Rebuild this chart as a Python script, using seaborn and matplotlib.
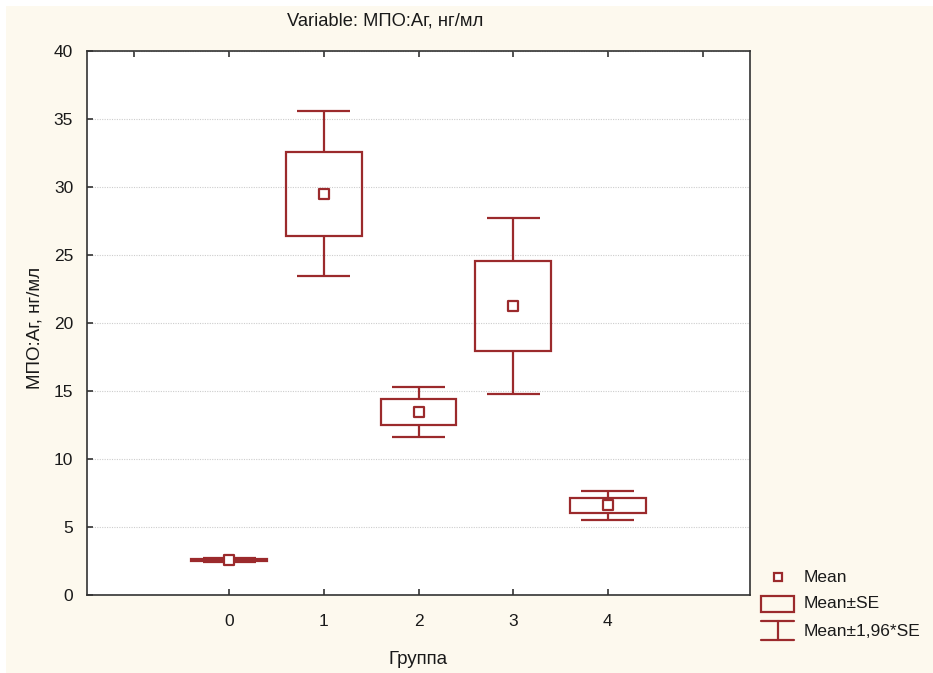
import matplotlib
matplotlib.use("Agg")
import matplotlib.pyplot as plt
from matplotlib.patches import Rectangle
import numpy as np
import pandas as pd
import seaborn as sns

# Group means of MPO:Ag (ng/ml) and their standard errors
groups = [0, 1, 2, 3, 4]
means = [2.55, 29.5, 13.45, 21.25, 6.6]
se = [0.07, 3.1, 0.95, 3.3, 0.55]
z = 1.96

y_ticks = [0, 5, 10, 15, 20, 25, 30, 35, 40]
title = "Variable: МПО:Аг, нг/мл"
y_label = "МПО:Аг, нг/мл"
x_label = "Группа"
legend_labels = ["Mean", "Mean±SE", "Mean±1,96*SE"]

df = pd.DataFrame({"group": groups, "mean": means, "se": se})
df["se_lo"] = df["mean"] - df["se"]
df["se_hi"] = df["mean"] + df["se"]
df["ci_lo"] = df["mean"] - z * df["se"]
df["ci_hi"] = df["mean"] + z * df["se"]

RED = "#9B2A2C"
BG = "#FDF9EE"
TXT = "#1a1a1a"
FS = 12.5

sns.set_theme(style="white")
plt.rcParams["font.family"] = ["Liberation Sans", "DejaVu Sans"]

W, H = 933, 673
fig = plt.figure(figsize=(W / 100, H / 100), dpi=100, facecolor="white")
# cream panel behind everything, with a thin white margin at top/left
fig.patches.append(Rectangle((6 / W, 0), 1, 1 - 6 / H, transform=fig.transFigure,
                             facecolor=BG, edgecolor="none", zorder=-10))

ax = fig.add_axes([87 / W, 1 - 595 / H, (750 - 87) / W, (595 - 51) / H])
ax.set_facecolor("white")

box_hw = 0.4
cap_hw = 0.28
lw = 1.6

# Mean ± SE boxes
ax.bar(df["group"], df["se_hi"] - df["se_lo"], bottom=df["se_lo"], width=2 * box_hw,
       facecolor="none", edgecolor=RED, linewidth=lw, zorder=3)
# whiskers to mean ± 1.96*SE
ax.vlines(df["group"], df["se_hi"], df["ci_hi"], color=RED, linewidth=lw, zorder=3)
ax.vlines(df["group"], df["ci_lo"], df["se_lo"], color=RED, linewidth=lw, zorder=3)
ax.hlines(df["ci_hi"], df["group"] - cap_hw, df["group"] + cap_hw, color=RED, linewidth=lw, zorder=3)
ax.hlines(df["ci_lo"], df["group"] - cap_hw, df["group"] + cap_hw, color=RED, linewidth=lw, zorder=3)
# means
sns.scatterplot(data=df, x="group", y="mean", marker="s", s=42, facecolor="white",
                edgecolor=RED, linewidth=1.6, zorder=4, ax=ax, legend=False)

ax.set_xlim(-1.5, 5.5)
ax.set_ylim(0, 40)
ax.set_yticks(y_ticks)
ax.set_yticklabels([str(v) for v in y_ticks])
ax.set_xticks(groups)
ax.set_xticklabels([str(g) for g in groups])
ax.set_xlabel("")
ax.set_ylabel("")

ax.yaxis.grid(True, linestyle=(0, (1, 1.2)), color="#cdcdcd", linewidth=0.8)
ax.set_axisbelow(True)
for s in ax.spines.values():
    s.set_color("#333333")
    s.set_linewidth(1.2)
ax.tick_params(axis="both", direction="in", length=4, width=1.2, color="#333333",
               labelsize=FS, labelcolor=TXT)
ax.tick_params(axis="y", pad=10, left=True)
ax.tick_params(axis="x", pad=14, bottom=True)

# top-edge ticks
top = ax.secondary_xaxis("top")
top.set_xticks([-1, 0, 1, 2, 3, 4, 5])
top.set_xticklabels([])
top.tick_params(direction="in", length=4, width=1.2, color="#333333")
top.spines["top"].set_visible(False)

fig.text(385 / W, 1 - 21 / H, title, ha="center", va="center", fontsize=13.2, color=TXT)
fig.text(35 / W, 1 - 328 / H, y_label, ha="center", va="center", rotation=90,
         fontsize=13.5, color=TXT)
fig.text(418 / W, 1 - 659 / H, x_label, ha="center", va="center", fontsize=13.5, color=TXT)

# legend panel in pixel coordinates
lg = fig.add_axes([750 / W, 0, (W - 750) / W, (H - 560) / H])
lg.set_xlim(750, W)
lg.set_ylim(H, 560)
lg.axis("off")
lg.plot([778], [577], marker="s", ms=5.5, mfc="white", mec=RED, mew=1.6)
lg.add_patch(Rectangle((761, 596), 33, 16, facecolor="none", edgecolor=RED, linewidth=lw))
lg.plot([761, 794], [621, 621], color=RED, linewidth=lw)
lg.plot([761, 794], [640, 640], color=RED, linewidth=lw)
lg.plot([777.5, 777.5], [621, 640], color=RED, linewidth=lw)
for txt, yy in zip(legend_labels, [578, 603, 631]):
    lg.text(804, yy, txt, ha="left", va="center", fontsize=FS, color=TXT)

fig.savefig("out.png", dpi=100, facecolor=fig.get_facecolor())
